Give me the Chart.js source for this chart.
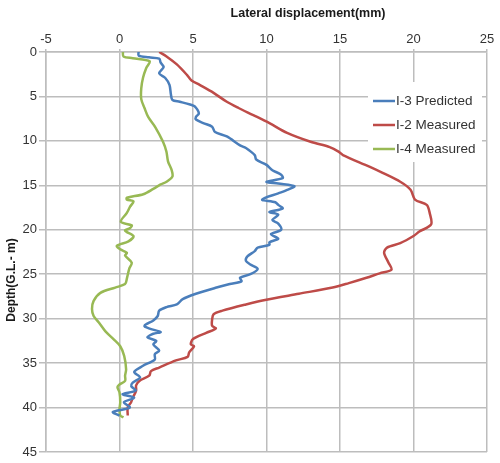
<!DOCTYPE html>
<html>
<head>
<meta charset="utf-8">
<script src="https://cdn.jsdelivr.net/npm/chart.js@4"></script>
<style>
html,body{margin:0;padding:0;background:#fff;}
#wrap{position:relative;width:500px;height:463px;}
</style>
</head>
<body>
<div id="wrap"><canvas id="c" width="500" height="463"></canvas></div>
<script>
// ---- data ----
const seriesNames = ['I-3 Predicted', 'I-2 Measured', 'I-4 Measured'];
const xTickValues = [-5, 0, 5, 10, 15, 20, 25];
const yTickValues = [0, 5, 10, 15, 20, 25, 30, 35, 40, 45];

const depthI3 = [0,0.4,0.6,0.75,1.2,1.7,2.4,2.9,3.7,4.8,5.4,5.6,5.9,6.1,6.9,7.3,7.6,8.0,8.4,9.0,9.5,10.5,10.8,11.6,12.1,12.7,13.3,13.8,14.2,14.6,14.8,15.1,15.6,15.9,16.6,16.9,17.2,17.6,18.0,18.3,18.9,19.3,20.0,20.5,21.0,21.4,21.7,22.0,22.4,23.0,23.5,23.9,24.4,25.0,25.4,25.8,26.1,26.5,27.2,27.8,28.4,28.7,29.1,29.7,30.2,30.8,31.1,31.5,31.7,32.1,32.5,32.9,33.6,34.0,34.6,35.3,36.0,36.6,37.2,37.6,38.1,38.5,38.9,39.4,40.0,40.5,40.9];
const dispI3  = [1.3,1.3,2.0,2.7,2.8,3.0,2.7,3.1,3.4,3.5,3.6,4.1,4.8,5.1,5.4,5.2,5.2,5.7,6.3,6.5,7.3,8.2,8.6,9.2,9.3,10.0,10.4,11.0,11.1,10.0,10.8,11.9,11.3,10.8,9.7,10.6,10.8,11.1,10.2,10.8,10.4,10.8,11.0,10.3,10.8,10.2,10.2,9.4,9.2,8.7,8.6,8.9,9.4,8.9,8.2,8.3,7.5,6.6,5.2,4.3,3.9,3.2,2.7,2.6,2.3,1.7,2.0,2.8,2.3,1.9,2.5,2.3,2.7,2.4,2.4,1.6,1.0,1.4,0.9,0.8,1.1,0.2,1.0,0.3,0.7,-0.45,0.0];

const depthI2 = [0,0.5,1.4,2.6,3.2,3.7,4.6,5.6,6.3,7.1,8.0,9.1,10.1,10.7,11.2,11.6,12.9,13.6,14.6,15.5,16.6,17.2,18.1,19.4,20.2,20.7,21.5,22.0,22.6,23.7,24.5,24.9,25.4,26.0,26.5,27.2,27.9,28.4,29.1,29.5,30.1,30.8,31.1,31.6,32.3,32.9,33.1,33.8,34.3,34.7,35.5,35.9,36.4,37.0,37.5,38.1,38.9,39.4,40.0,40.9];
const dispI2  = [2.7,3.2,3.9,4.6,4.9,5.45,6.4,7.3,8.1,9.1,10.2,11.4,13.0,14.3,14.9,15.2,17.0,17.9,19.1,19.8,20.1,20.9,21.1,21.2,20.4,20.0,19.1,18.2,18.0,18.3,18.5,17.7,16.8,15.6,14.5,12.2,9.9,8.6,7.0,6.4,6.3,6.3,6.55,5.9,5.0,4.85,5.07,4.74,4.63,3.84,2.7,2.14,2.03,1.35,1.13,1.13,0.9,0.79,0.56,0.56];

const depthI4 = [0,0.5,0.7,1.05,1.8,2.9,4.1,5.3,6.3,7.3,8.5,10.1,11.2,12.3,13.3,14.0,14.6,14.9,15.4,16.0,16.4,16.6,16.8,17.4,18.1,19.1,19.5,19.8,20.1,20.7,21.3,21.8,22.2,22.6,22.9,23.7,24.4,25.5,26.1,26.5,27.1,28.0,28.9,29.7,30.4,31.4,32.3,33.1,34.2,35.7,36.4,37.0,37.4,37.7,38.3,39.4,40.2,40.9,41.1];
const dispI4  = [0.23,0.27,0.9,2.05,1.82,1.6,1.48,1.48,1.7,1.95,2.45,2.96,3.19,3.3,3.55,3.6,3.2,2.8,2.3,1.62,0.5,0.5,0.95,0.72,0.5,0.09,0.83,0.72,0.38,0.95,0.61,-0.18,0.05,0.5,0.38,0.83,0.66,0.5,0.38,-0.29,-1.3,-1.76,-1.87,-1.76,-1.42,-0.97,-0.41,0.05,0.32,0.45,0.38,0.38,0,-0.14,0,0.05,0,0.05,0.27];

const xTitle = 'Lateral displacement(mm)';
const yTitle = 'Depth(G.L.- m)';
const colors = ['#4A7EBB', '#BE4B48', '#98B954'];

function pts(xs, ys){ return xs.map((v,i)=>({x:v, y:ys[i]})); }

const legendTitles = {
  id: 'customText',
  afterDraw(chart){
    const ctx = chart.ctx;
    ctx.save();
    // x title
    ctx.fillStyle = '#1a1a1a';
    ctx.font = 'bold 12.5px "Liberation Sans", Arial, sans-serif';
    ctx.textAlign = 'center';
    ctx.textBaseline = 'middle';
    ctx.fillText(xTitle, 308, 14);
    // y title
    ctx.save();
    ctx.translate(12, 280);
    ctx.rotate(-Math.PI/2);
    ctx.font = 'bold 12px "Liberation Sans", Arial, sans-serif';
    ctx.fillText(yTitle, 0, 0);
    ctx.restore();
    // legend
    ctx.fillStyle = '#ffffff';
    ctx.fillRect(368, 82, 114, 80);
    const ys = [101, 125, 149];
    ctx.font = '13.5px "Liberation Sans", Arial, sans-serif';
    ctx.textAlign = 'left';
    chart.data.datasets.forEach((ds, i) => {
      ctx.strokeStyle = ds.borderColor;
      ctx.lineWidth = 2.5;
      ctx.beginPath();
      ctx.moveTo(373, ys[i]);
      ctx.lineTo(395, ys[i]);
      ctx.stroke();
      ctx.fillStyle = '#333333';
      ctx.fillText(ds.label, 396, ys[i] + 0.5);
    });
    ctx.restore();
  }
};

new Chart(document.getElementById('c'), {
  type: 'scatter',
  data: {
    datasets: [
      {label: seriesNames[0], data: pts(dispI3, depthI3), borderColor: colors[0], backgroundColor: colors[0]},
      {label: seriesNames[1], data: pts(dispI2, depthI2), borderColor: colors[1], backgroundColor: colors[1]},
      {label: seriesNames[2], data: pts(dispI4, depthI4), borderColor: colors[2], backgroundColor: colors[2]}
    ].map(d => Object.assign(d, {showLine: true, pointRadius: 0, borderWidth: 2.5, tension: 0.3, fill: false}))
  },
  options: {
    responsive: false,
    animation: false,
    devicePixelRatio: 1,
    layout: {padding: {left: 0, right: 13, top: 0, bottom: 11}},
    plugins: {legend: {display: false}, tooltip: {enabled: false}},
    scales: {
      x: {
        type: 'linear', position: 'top', min: -5, max: 25,
        afterBuildTicks: s => { s.ticks = xTickValues.map(v => ({value: v})); },
        afterFit: s => { s.height = 52; },
        grid: {color: '#bdbdbd', lineWidth: 1.5, tickLength: 3},
        border: {color: '#bdbdbd', width: 1.5},
        ticks: {color: '#333', padding: 2, font: {family: '"Liberation Sans", Arial, sans-serif', size: 13}}
      },
      y: {
        type: 'linear', reverse: true, min: 0, max: 45,
        afterBuildTicks: s => { s.ticks = yTickValues.map(v => ({value: v})); },
        afterFit: s => { s.width = 46; },
        grid: {color: '#bdbdbd', lineWidth: 1.5, tickLength: 7},
        border: {color: '#bdbdbd', width: 1.5},
        ticks: {color: '#333', padding: 2, font: {family: '"Liberation Sans", Arial, sans-serif', size: 13}}
      }
    }
  },
  plugins: [legendTitles]
});
</script>
</body>
</html>
